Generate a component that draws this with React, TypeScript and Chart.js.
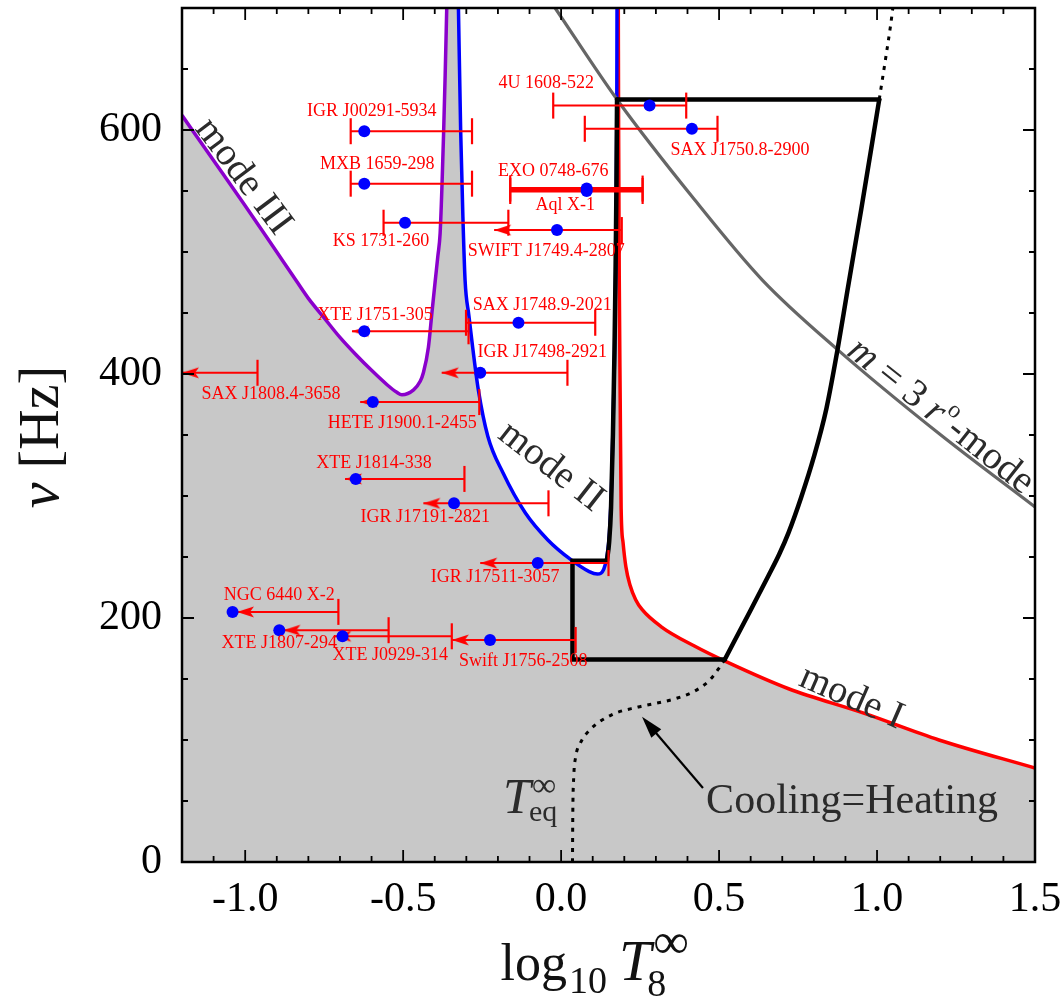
import React, { useEffect, useRef } from 'react';
import { Chart, registerables } from 'chart.js';

Chart.register(...registerables);

const RED = '#ff0000';
const BLUE = '#0000ff';
const PURPLE = '#8a00cc';
const SHADE = '#c8c8c8';
const RMODE = '#666666';
const INK = '#2b2b2b';
const SERIF = '"Liberation Serif", "Times New Roman", serif';

// ---- axes ----
const xRange = [-1.2, 1.5];
const yRange = [0, 700];
const xTickValues = [-1.0, -0.5, 0.0, 0.5, 1.0, 1.5];
const yTickValues = [0, 200, 400, 600];

// ---- instability curves (log10 T8, nu in Hz) ----
const modeIIILogT = [-1.2, -1.1, -1.0, -0.9, -0.85, -0.8, -0.75, -0.7, -0.65, -0.6, -0.55, -0.52, -0.504, -0.467, -0.446, -0.436, -0.42, -0.409, -0.399, -0.39, -0.383, -0.377, -0.372, -0.367, -0.362];
const modeIIINu = [612, 575, 538, 500, 481, 462, 446, 430, 416, 403, 391, 385, 383, 387, 394, 401, 422, 450, 475, 497, 515, 555, 597, 645, 700];

const modeIILogT = [-0.325, -0.318, -0.311, -0.304, -0.292, -0.28, -0.262, -0.232, -0.184, -0.113, -0.042, 0.03, 0.089, 0.115, 0.135, 0.145, 0.153, 0.161, 0.168, 0.173, 0.176, 0.177];
const modeIINu = [700, 600, 530, 477, 448, 422, 387, 349, 319, 286, 264, 248, 238, 236, 240, 250, 270, 320, 400, 490, 600, 700];

const modeILogT = [0.181, 0.182, 0.184, 0.187, 0.19, 0.196, 0.205, 0.218, 0.236, 0.256, 0.316, 0.422, 0.524, 0.72, 0.958, 1.196, 1.5];
const modeINu = [700, 600, 480, 380, 290, 262, 242, 227, 215, 207, 193, 177, 164, 142, 122, 100, 77];

const rModeLogT = [-0.019, 0.177, 0.422, 0.637, 0.875, 1.197, 1.5];
const rModeNu = [700, 625, 543, 477, 420, 351, 291];

// ---- black box (evolution path) ----
const boxTopLogT = [0.177, 1.007];
const boxTopNu = [625, 625];
const boxLowLogT = [0.145, 0.036, 0.036, 0.518];
const boxLowNu = [247, 247, 166, 166];
const boxRiseLogT = [0.145, 0.152, 0.158, 0.164, 0.169, 0.172, 0.175, 0.177];
const boxRiseNu = [247, 262, 290, 350, 420, 477, 550, 625];
const boxRightLogT = [0.518, 0.601, 0.655, 0.69, 0.72, 0.76, 0.8, 0.84, 0.875, 0.906, 0.95, 0.985, 1.007];
const boxRightNu = [166, 207, 234, 252, 270, 299, 332, 372, 420, 468, 535, 590, 625];

// ---- dotted curves ----
const eqLogT = [0.036, 0.037, 0.04, 0.046, 0.06, 0.09, 0.163, 0.244, 0.363, 0.422, 0.47, 0.5, 0.518];
const eqNu = [0, 40, 70, 86, 97, 108, 121, 127, 134, 140, 149, 159, 166];
const eqTopLogT = [1.007, 1.025, 1.043, 1.05];
const eqTopNu = [625, 655, 686, 700];

// ---- sources ----
const srcNames = ['IGR J00291-5934', 'MXB 1659-298', 'KS 1731-260', 'EXO 0748-676', 'Aql X-1', 'SWIFT J1749.4-2807', '4U 1608-522', 'SAX J1750.8-2900', 'XTE J1751-305', 'SAX J1748.9-2021', 'SAX J1808.4-3658', 'IGR J17498-2921', 'HETE J1900.1-2455', 'XTE J1814-338', 'IGR J17191-2821', 'IGR J17511-3057', 'NGC 6440 X-2', 'XTE J1807-294', 'XTE J0929-314', 'Swift J1756-2508'];
const srcNu = [599, 556, 524, 552, 550, 518, 620, 601, 435, 442, 401, 401, 377, 314, 294, 245, 205, 190, 185, 182];
const srcLogT = [-0.623, -0.623, -0.494, 0.081, 0.081, -0.013, 0.28, 0.414, -0.623, -0.135, null, -0.256, -0.596, -0.65, -0.339, -0.074, -1.04, -0.892, -0.692, -0.225];
const srcLo = [-0.666, -0.666, -0.562, -0.161, -0.161, -0.212, -0.025, 0.075, -0.662, -0.301, -1.2, -0.378, -0.636, -0.684, -0.436, -0.256, -1.026, -0.879, -0.718, -0.346];
const srcHi = [-0.282, -0.282, -0.167, 0.258, 0.258, 0.192, 0.396, 0.495, -0.293, 0.108, -0.961, 0.02, -0.259, -0.306, -0.04, 0.15, -0.705, -0.546, -0.346, 0.046];
const srcUpper = [false, false, false, false, false, true, false, false, true, false, true, true, true, true, true, true, true, true, true, true];
// label anchors (centre of text, data units)
const labelLogT = [-0.599, -0.582, -0.57, -0.025, 0.013, -0.047, -0.047, 0.566, -0.589, -0.06, -0.918, -0.06, -0.503, -0.592, -0.43, -0.209, -0.892, -0.892, -0.541, -0.12];
const labelNu = [615.6, 572.1, 509.0, 566.4, 538.5, 500.8, 638.5, 583.6, 448.4, 456.6, 383.6, 418.0, 359.8, 327.0, 282.8, 233.6, 218.9, 179.5, 169.7, 164.8];

const pts = (xs: number[], ys: number[]) => xs.map((x, i) => ({ x, y: ys[i] }));

function makeArrow(): HTMLCanvasElement {
  const c = document.createElement('canvas');
  c.width = 40;
  c.height = 14;
  const g = c.getContext('2d') as CanvasRenderingContext2D;
  g.fillStyle = RED;
  g.beginPath();
  g.moveTo(20, 7);
  g.lineTo(37, 1.5);
  g.lineTo(33, 7);
  g.lineTo(37, 12.5);
  g.closePath();
  g.fill();
  return c;
}

function drawParts(ctx: any, parts: any[], cx: number, cy: number, angleDeg: number) {
  ctx.save();
  ctx.translate(cx, cy);
  ctx.rotate((angleDeg * Math.PI) / 180);
  let total = 0;
  const widths = parts.map((p) => {
    ctx.font = p.font;
    const w = ctx.measureText(p.text).width;
    total += w + (p.gap || 0);
    return w;
  });
  let xp = -total / 2;
  parts.forEach((p, i) => {
    ctx.font = p.font;
    ctx.fillText(p.text, xp, p.dy || 0);
    xp += widths[i] + (p.gap || 0);
  });
  ctx.restore();
}

const decor = {
  id: 'decor',
  beforeDraw(chart: any) {
    const { ctx, chartArea: a } = chart;
    ctx.save();
    ctx.fillStyle = SHADE;
    ctx.fillRect(a.left, a.top, a.right - a.left, a.bottom - a.top);
    ctx.restore();
  },
  afterDatasetsDraw(chart: any) {
    const { ctx, chartArea: a } = chart;
    const xs = chart.scales.x;
    const ys = chart.scales.y;
    const px = (v: number) => xs.getPixelForValue(v);
    const py = (v: number) => ys.getPixelForValue(v);

    ctx.save();
    ctx.beginPath();
    ctx.rect(a.left, a.top, a.right - a.left, a.bottom - a.top);
    ctx.clip();

    // source labels
    ctx.fillStyle = RED;
    ctx.font = `18px ${SERIF}`;
    ctx.textAlign = 'center';
    ctx.textBaseline = 'middle';
    srcNames.forEach((n, i) => ctx.fillText(n, px(labelLogT[i]), py(labelNu[i])));

    // curve labels
    ctx.fillStyle = INK;
    ctx.textAlign = 'left';
    ctx.textBaseline = 'middle';
    const f38 = `39px ${SERIF}`;
    drawParts(ctx, [{ text: 'mode III', font: f38 }], px(-1.006), py(561.7), 53);
    drawParts(ctx, [{ text: 'mode II', font: f38 }], px(-0.032), py(324), 38);
    drawParts(ctx, [{ text: 'mode I', font: f38 }], px(0.919), py(134.8), 23.6);
    drawParts(
      ctx,
      [
        { text: 'm', font: `italic 39px ${SERIF}` },
        { text: ' = 3 ', font: f38 },
        { text: 'r', font: `italic 39px ${SERIF}`, gap: 1 },
        { text: 'o', font: `24px ${SERIF}`, dy: -13 },
        { text: '-mode', font: f38 },
      ],
      px(1.201),
      py(365.2),
      38.5
    );

    // T_eq label
    ctx.textBaseline = 'alphabetic';
    const tx = px(-0.184);
    const ty = py(40.2);
    ctx.font = `italic 50px ${SERIF}`;
    ctx.fillText('T', tx, ty);
    ctx.font = `34px ${SERIF}`;
    ctx.fillText('\u221E', tx + 29, ty - 17);
    ctx.font = `30px ${SERIF}`;
    ctx.fillText('eq', tx + 26, ty + 8);

    // Cooling=Heating
    ctx.font = `42px ${SERIF}`;
    ctx.fillText('Cooling=Heating', px(0.459), py(40.2));

    // arrow
    const x0 = px(0.449), y0 = py(60.7), x1 = px(0.256), y1 = py(119.1);
    const ang = Math.atan2(y1 - y0, x1 - x0);
    ctx.strokeStyle = '#000';
    ctx.lineWidth = 2.2;
    ctx.beginPath();
    ctx.moveTo(x0, y0);
    ctx.lineTo(x1 - Math.cos(ang) * 14, y1 - Math.sin(ang) * 14);
    ctx.stroke();
    ctx.fillStyle = '#000';
    ctx.beginPath();
    ctx.moveTo(x1, y1);
    ctx.lineTo(x1 - Math.cos(ang) * 22 + Math.sin(ang) * 6.5, y1 - Math.sin(ang) * 22 - Math.cos(ang) * 6.5);
    ctx.lineTo(x1 - Math.cos(ang) * 22 - Math.sin(ang) * 6.5, y1 - Math.sin(ang) * 22 + Math.cos(ang) * 6.5);
    ctx.closePath();
    ctx.fill();
    ctx.restore();

    // inward ticks
    ctx.save();
    ctx.strokeStyle = '#000';
    ctx.lineWidth = 1.8;
    ctx.beginPath();
    for (let i = -12; i <= 15; i++) {
      const X = px(i / 10);
      const len = i % 5 === 0 ? 12 : 6;
      ctx.moveTo(X, a.bottom);
      ctx.lineTo(X, a.bottom - len);
      ctx.moveTo(X, a.top);
      ctx.lineTo(X, a.top + len);
    }
    for (let v = 0; v <= 700; v += 50) {
      const Y = py(v);
      const len = v % 200 === 0 ? 12 : 6;
      ctx.moveTo(a.left, Y);
      ctx.lineTo(a.left + len, Y);
      ctx.moveTo(a.right, Y);
      ctx.lineTo(a.right - len, Y);
    }
    ctx.stroke();
    ctx.lineWidth = 2.5;
    ctx.strokeRect(a.left, a.top, a.right - a.left, a.bottom - a.top);
    ctx.restore();
  },
  afterDraw(chart: any) {
    const { ctx, chartArea: a } = chart;
    ctx.save();
    ctx.fillStyle = '#111';
    ctx.textAlign = 'left';
    ctx.textBaseline = 'alphabetic';
    // y title
    ctx.save();
    ctx.translate(a.left - 124, (a.top + a.bottom) / 2 + 2);
    ctx.rotate(-Math.PI / 2);
    const p1 = { text: '\u03BD', font: `italic 58px ${SERIF}` };
    const p2 = { text: ' [Hz]', font: `56px ${SERIF}` };
    ctx.font = p1.font;
    const w1 = ctx.measureText(p1.text).width;
    ctx.font = p2.font;
    const w2 = ctx.measureText(p2.text).width;
    let xp = -(w1 + w2) / 2;
    ctx.font = p1.font;
    ctx.fillText(p1.text, xp, 0);
    xp += w1;
    ctx.font = p2.font;
    ctx.fillText(p2.text, xp, 0);
    ctx.restore();

    // x title
    const cx = (a.left + a.right) / 2;
    const base = a.bottom + 118;
    let x = cx - 108;
    ctx.font = `52px ${SERIF}`;
    ctx.fillText('log', x, base);
    x += ctx.measureText('log').width + 2;
    ctx.font = `38px ${SERIF}`;
    ctx.fillText('10', x, base + 13);
    x += ctx.measureText('10').width + 12;
    ctx.font = `italic 58px ${SERIF}`;
    ctx.fillText('T', x, base);
    const tw = ctx.measureText('T').width;
    ctx.font = `50px ${SERIF}`;
    ctx.fillText('\u221E', x + tw + 2, base - 22);
    ctx.font = `38px ${SERIF}`;
    ctx.fillText('8', x + tw - 4, base + 16);
    ctx.restore();
  },
};

export default function App() {
  const ref = useRef<HTMLCanvasElement | null>(null);

  useEffect(() => {
    if (!ref.current) return;
    const arrowImg = makeArrow();

    const curve = (xs: number[], ys: number[], color: string, width: number, extra: any = {}) => ({
      type: 'line',
      data: pts(xs, ys),
      borderColor: color,
      borderWidth: width,
      pointRadius: 0,
      cubicInterpolationMode: 'monotone',
      fill: false,
      ...extra,
    });

    const dots = srcLogT
      .map((t, i) => (t === null ? null : { x: t as number, y: srcNu[i] }))
      .filter((p) => p !== null);
    const caps: any[] = [];
    const arrows: any[] = [];
    srcNames.forEach((_, i) => {
      caps.push({ x: srcHi[i], y: srcNu[i] });
      if (srcUpper[i]) arrows.push({ x: srcLo[i], y: srcNu[i] });
      else caps.push({ x: srcLo[i], y: srcNu[i] });
    });
    const bars = srcNames.map((_, i) => {
      const overlapping = srcNames.some(
        (__, j) => j !== i && srcLo[j] === srcLo[i] && srcHi[j] === srcHi[i] && Math.abs(srcNu[j] - srcNu[i]) < 5
      );
      return {
        type: 'line',
        data: [
          { x: srcLo[i], y: srcNu[i] },
          { x: srcHi[i], y: srcNu[i] },
        ],
        borderColor: RED,
        borderWidth: overlapping ? 3.2 : 2,
        pointRadius: 0,
        fill: false,
        order: 2,
      };
    });

    const datasets: any[] = [
      {
        type: 'line',
        data: dots,
        showLine: false,
        pointRadius: 6,
        pointBackgroundColor: BLUE,
        pointBorderWidth: 0,
        order: 0,
      },
      {
        type: 'line',
        data: caps,
        showLine: false,
        pointStyle: 'line',
        pointRotation: 90,
        pointRadius: 13,
        pointBorderColor: RED,
        pointBorderWidth: 2.2,
        order: 1,
      },
      {
        type: 'line',
        data: arrows,
        showLine: false,
        pointStyle: arrowImg,
        pointRadius: 6,
        order: 1,
      },
      ...bars,
      curve(boxTopLogT, boxTopNu, '#000', 4.5, { cubicInterpolationMode: 'default', tension: 0, borderCapStyle: 'round', order: 3 }),
      curve(boxLowLogT, boxLowNu, '#000', 4.5, { cubicInterpolationMode: 'default', tension: 0, borderCapStyle: 'round', borderJoinStyle: 'miter', order: 3 }),
      curve(boxRiseLogT, boxRiseNu, '#000', 4.5, { borderCapStyle: 'round', order: 3 }),
      curve(boxRightLogT, boxRightNu, '#000', 4.5, { borderCapStyle: 'round', order: 3 }),
      curve(eqLogT, eqNu, '#000', 3, { borderDash: [4, 6], order: 4 }),
      curve(eqTopLogT, eqTopNu, '#000', 3, { borderDash: [4, 6], order: 4 }),
      curve(rModeLogT, rModeNu, RMODE, 3.2, { order: 4 }),
      curve(modeIIILogT, modeIIINu, PURPLE, 3.5, { fill: 'end', backgroundColor: '#ffffff', order: 5 }),
      curve(modeIILogT, modeIINu, BLUE, 3.5, { fill: 'end', backgroundColor: '#ffffff', order: 5 }),
      curve(modeILogT, modeINu, RED, 3.5, { fill: 'end', backgroundColor: '#ffffff', order: 5 }),
    ];

    const chart = new Chart(ref.current, {
      type: 'line',
      data: { datasets },
      options: {
        animation: false,
        responsive: false,
        devicePixelRatio: 1,
        events: [],
        layout: { autoPadding: false, padding: { top: 8, right: 29, bottom: 0, left: 0 } },
        plugins: {
          legend: { display: false },
          tooltip: { enabled: false },
          filler: { propagate: false, drawTime: 'beforeDatasetsDraw' },
        },
        scales: {
          x: {
            type: 'linear',
            min: xRange[0],
            max: xRange[1],
            grid: { display: false, drawTicks: false },
            border: { display: false },
            afterBuildTicks: (s: any) => {
              s.ticks = xTickValues.map((v) => ({ value: v }));
            },
            afterFit: (s: any) => {
              s.height = 136;
              s.paddingLeft = 0;
              s.paddingRight = 0;
            },
            ticks: {
              padding: 13,
              maxRotation: 0,
              autoSkip: false,
              color: '#000',
              font: { family: SERIF, size: 42 },
              callback: (v: any) => Number(v).toFixed(1),
            },
          },
          y: {
            type: 'linear',
            min: yRange[0],
            max: yRange[1],
            grid: { display: false, drawTicks: false },
            border: { display: false },
            afterBuildTicks: (s: any) => {
              s.ticks = yTickValues.map((v) => ({ value: v }));
            },
            afterFit: (s: any) => {
              s.width = 182;
              s.paddingTop = 0;
              s.paddingBottom = 0;
            },
            ticks: {
              padding: 20,
              autoSkip: false,
              color: '#000',
              font: { family: SERIF, size: 42 },
              callback: (v: any) => String(v),
            },
          },
        },
      } as any,
      plugins: [decor],
    } as any);

    return () => chart.destroy();
  }, []);

  return (
    <div style={{ position: 'absolute', left: 0, top: 0, width: 1064, height: 998, background: '#fff' }}>
      <canvas ref={ref} width={1064} height={998} style={{ display: 'block' }} />
    </div>
  );
}
